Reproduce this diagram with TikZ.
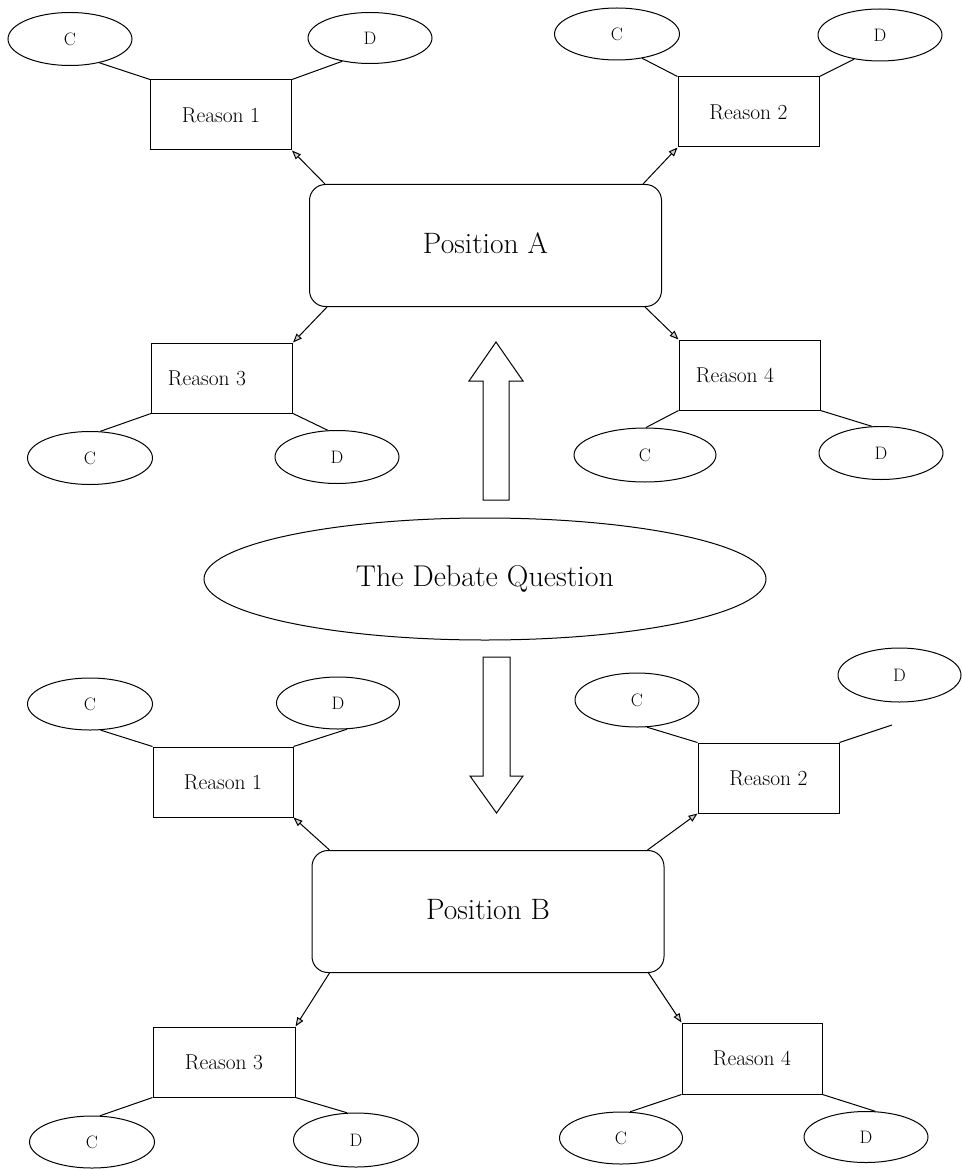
\documentclass[tikz,border=0pt]{standalone}
\usetikzlibrary{shapes.geometric,arrows.meta}
\newcommand{\rtxt}[1]{\raisebox{-5pt}{#1}}
\newcommand{\ptxt}[1]{\raisebox{5pt}{#1}}
\begin{document}
\begin{tikzpicture}[x=1pt,y=-1pt,
  reason/.style={draw, rectangle, line width=1pt, minimum width=141pt, minimum height=70pt, inner sep=0pt, font=\fontsize{21.5}{24}\selectfont},
  cd/.style={draw, ellipse, line width=1pt, minimum width=124pt, minimum height=52pt, inner sep=0pt, font=\fontsize{18}{20}\selectfont},
  position/.style={draw, rectangle, line width=1pt, rounded corners=16pt, minimum width=352pt, minimum height=122pt, inner sep=0pt, font=\fontsize{29.5}{32}\selectfont},
  question/.style={draw, ellipse, line width=1pt, minimum width=562pt, minimum height=122pt, inner sep=0pt, font=\fontsize{30}{33}\selectfont},
  link/.style={line width=1pt},
  arr/.style={line width=1pt, -{Triangle[length=9pt,width=7pt,fill=gray!35]}},
  blk/.style={draw, line width=1pt, line join=miter}]
\useasboundingbox (0,0) rectangle (961,1169);

% ---------- Position A ----------
\node[position] (posA) at (485.5,245.5) {\ptxt{Position A}};
\node[reason] (r1) at (221,115) {\rtxt{Reason 1}};
\node[reason] (r2) at (748.5,112) {\rtxt{Reason 2}};
\node[reason] (r3) at (222,378) {\rtxt{Reason 3}\kern30pt\relax};
\node[reason] (r4) at (749.5,375) {\raisebox{-7pt}{Reason 4}\kern29pt\relax};

\node[cd, minimum height=53pt] (c1) at (70,39) {C};
\node[cd, minimum height=51pt] (d1) at (370,38) {D};
\node[cd, minimum width=125pt] (c2) at (617,34) {C};
\node[cd] (d2) at (880,35) {D};
\node[cd, minimum width=125pt, minimum height=53pt] (c3) at (90,458) {C};
\node[cd, minimum height=53pt] (d3) at (337,457) {D};
\node[cd, minimum width=142pt, minimum height=54pt] (c4) at (645,455) {C};
\node[cd, minimum height=53pt] (d4) at (881,453) {D};

\draw[link] (r1.north west) -- (c1.-39);
\draw[link] (r1.north east) -- (d1.-140);
\draw[link] (r2.north west) -- (c2.-44);
\draw[link] (r2.north east) -- (d2.-137);
\draw[link] (r3.south west) -- (c3.69);
\draw[link] (r3.south east) -- (d3.109);
\draw[link] (r4.south west) -- (c4.88);
\draw[link] (r4.south east) -- (d4.109);

\draw[arr] ([xshift=16pt]posA.north west) -- (r1.south east);
\draw[arr] ([xshift=-19pt]posA.north east) -- (r2.south west);
\draw[arr] ([xshift=18pt]posA.south west) -- (r3.north east);
\draw[arr] ([xshift=-17pt]posA.south east) -- (r4.north west);

% ---------- Debate question and block arrows ----------
\node[question] (q) at (485,579) {The Debate Question};
\draw[blk] (483,500) -- (483,381) -- (469,381) -- (496,342) -- (523,381) -- (509,381) -- (509,500) -- cycle;
\draw[blk] (483,657) -- (483,776) -- (470,776) -- (496.5,813) -- (523,776) -- (510,776) -- (510,657) -- cycle;

% ---------- Position B ----------
\node[position] (posB) at (488,911.5) {\raisebox{4pt}{Position B}};
\node[reason, minimum width=140pt] (b1) at (223,782) {\rtxt{Reason 1}};
\node[reason] (b2) at (768.5,778) {\rtxt{Reason 2}};
\node[reason, minimum width=142pt] (b3) at (224,1062) {\raisebox{-6pt}{Reason 3}};
\node[reason, minimum width=140pt, minimum height=71pt] (b4) at (752,1058.5) {\raisebox{-6pt}{Reason 4}};

\node[cd, minimum width=125pt] (bc1) at (90,704) {C};
\node[cd, minimum width=123pt] (bd1) at (338,703) {D};
\node[cd, minimum height=54pt] (bc2) at (637,700) {C};
\node[cd, minimum width=123pt, minimum height=54pt] (bd2) at (899.5,675) {D};
\node[cd, minimum width=125pt] (bc3) at (92,1142) {C};
\node[cd, minimum width=125pt, minimum height=54pt] (bd3) at (356,1140) {D};
\node[cd, minimum width=123pt] (bc4) at (621,1138) {C};
\node[cd, minimum height=51pt] (bd4) at (866,1137) {D};
\coordinate (bd2end) at (892,725);

\draw[link] (b1.north west) -- (bc1.-68);
\draw[link] (b1.north east) -- (bd1.-71);
\draw[link] (b2.north west) -- (bc2.-70);
\draw[link] (b2.north east) -- (bd2end);
\draw[link] (b3.south west) -- (bc3.73);
\draw[link] (b3.south east) -- (bd3.108);
\draw[link] (b4.south west) -- (bc4.71);
\draw[link] (b4.south east) -- (bd4.70);

\draw[arr] ([xshift=18pt]posB.north west) -- (b1.south east);
\draw[arr] ([xshift=-17pt]posB.north east) -- (b2.south west);
\draw[arr] ([xshift=18pt]posB.south west) -- (b3.north east);
\draw[arr] ([xshift=-16pt]posB.south east) -- (b4.north west);
\end{tikzpicture}
\end{document}
